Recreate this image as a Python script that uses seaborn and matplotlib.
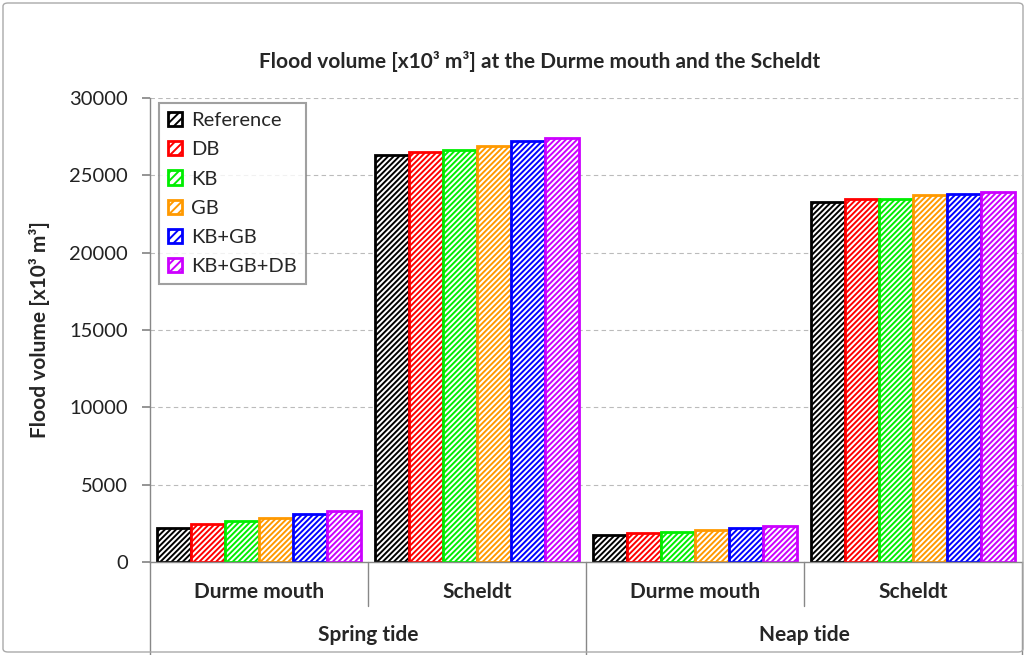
import matplotlib
matplotlib.use("Agg")
import matplotlib.pyplot as plt
import matplotlib.patches as mpatches
import matplotlib.transforms as mtransforms
import seaborn as sns
import pandas as pd

# ---- data ----
scenarios = ["Reference", "DB", "KB", "GB", "KB+GB", "KB+GB+DB"]
positions = ["Durme mouth", "Scheldt", "Durme mouth", "Scheldt"]
tides = ["Spring tide", "Neap tide"]
spring_durme = [2200, 2450, 2650, 2850, 3100, 3300]
spring_scheldt = [26300, 26500, 26650, 26900, 27200, 27400]
neap_durme = [1750, 1850, 1950, 2050, 2200, 2350]
neap_scheldt = [23300, 23450, 23450, 23750, 23800, 23950]
colors = ["#000000", "#FF0000", "#00EE00", "#FF9900", "#0000FF", "#CC00FF"]
yticks = [0, 5000, 10000, 15000, 20000, 25000, 30000]

series = [spring_durme, spring_scheldt, neap_durme, neap_scheldt]
keys = ["S_D", "S_S", "N_D", "N_S"]
rows = []
for k, vals in zip(keys, series):
    for s, v in zip(scenarios, vals):
        rows.append({"cat": k, "scenario": s, "value": v})
df = pd.DataFrame(rows)

sns.set_theme(style="white")
plt.rcParams["font.family"] = ["Lato", "DejaVu Sans"]
plt.rcParams["hatch.linewidth"] = 1.4

fig = plt.figure(figsize=(10.26, 6.55), dpi=100)
ax = fig.add_axes([150/1026, 93/655, 872/1026, 464/655])

sns.barplot(data=df, x="cat", y="value", hue="scenario", order=keys,
            hue_order=scenarios, palette=colors, width=0.94, ax=ax,
            legend=False, saturation=1)

for cont, col in zip(ax.containers, colors):
    for p in cont:
        p.set_facecolor("white")
        p.set_edgecolor(col)
        p.set_linewidth(2)
        p.set_hatch("//////")

ax.set_xlim(-0.5, 3.5)
ax.set_ylim(0, 30000)
ax.set_yticks(yticks)
ax.set_yticklabels([str(t) for t in yticks], fontsize=14.5, color="#222222")
ax.yaxis.grid(True, linestyle=(0, (4, 3)), color="#BBBBBB", linewidth=0.8)
ax.set_axisbelow(True)
ax.tick_params(axis="y", length=6, color="#888888", direction="out", left=True, pad=10)
ax.set_xticks([])
ax.set_xlabel("")
ax.set_ylabel("Flood volume [x10³ m³]", fontsize=15, fontweight="bold", labelpad=14)
for side in ["top", "right"]:
    ax.spines[side].set_visible(False)
for side in ["left", "bottom"]:
    ax.spines[side].set_color("#888888")
    ax.spines[side].set_linewidth(1)

# two-level category axis
trans = mtransforms.blended_transform_factory(ax.transData, ax.transAxes)
for xpos, ybot in [(-0.5, -0.2), (0.5, -0.095), (1.5, -0.2), (2.5, -0.095), (3.5, -0.2)]:
    ax.plot([xpos, xpos], [0, ybot], transform=trans, color="#888888",
            linewidth=1, clip_on=False)
for i, lab in enumerate(positions):
    ax.text(i, -0.065, lab, transform=trans, ha="center", va="center",
            fontsize=15, fontweight="bold")
for j, lab in enumerate(tides):
    ax.text(0.5 + 2 * j, -0.158, lab, transform=trans, ha="center", va="center",
            fontsize=15, fontweight="bold")

fig.text(540/1026, 1 - 61/655, "Flood volume [x10³ m³] at the Durme mouth and the Scheldt",
         ha="center", va="center", fontsize=15, fontweight="bold")

handles = [mpatches.Patch(facecolor="white", edgecolor=c, hatch="////", linewidth=2)
           for c in colors]
leg = ax.legend(handles, scenarios, loc="upper left", bbox_to_anchor=(0.004, 1.0),
                fontsize=14.5, frameon=True, fancybox=False, handlelength=0.7,
                handleheight=0.7, handletextpad=0.45, labelspacing=0.6,
                borderpad=0.45, borderaxespad=0.25)
leg.get_frame().set_edgecolor("#888888")
leg.get_frame().set_linewidth(1.5)

fig.patches.append(mpatches.FancyBboxPatch((3/1026, 3/655), 1020/1026, 649/655,
                   boxstyle="round,pad=0,rounding_size=0.005", transform=fig.transFigure,
                   facecolor="none", edgecolor="#AAAAAA", linewidth=1))

fig.savefig("out.png", dpi=100)
